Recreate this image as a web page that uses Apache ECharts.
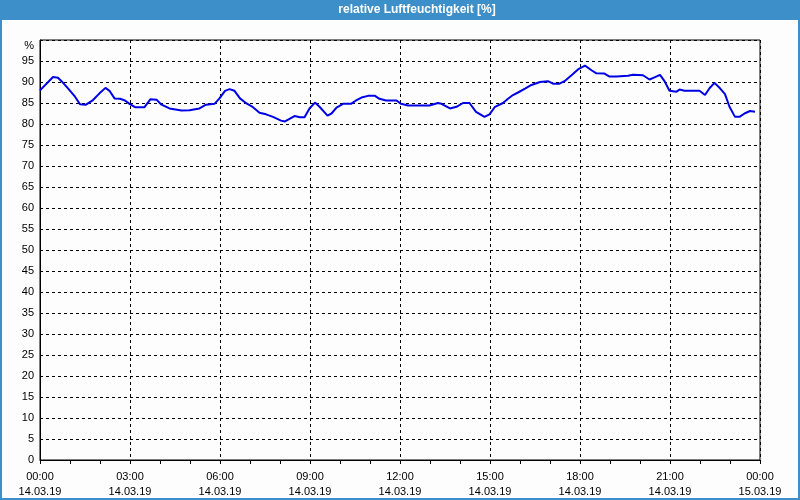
<!DOCTYPE html>
<html>
<head>
<meta charset="utf-8">
<script src="https://cdn.jsdelivr.net/npm/echarts@6/dist/echarts.min.js"></script>
<style>html,body{margin:0;padding:0;background:#fff}#c{width:800px;height:500px}</style>
</head>
<body>
<div id="c"></div>
<script>
// minutes since 14.03.19 00:00
var times = [0,26,36,43,56,70,80,92,106,119,131,139,149,160,170,179,190,209,221,233,243,259,283,299,319,332,349,359,370,379,389,400,413,426,439,452,466,482,490,499,509,520,529,539,550,559,575,583,593,606,622,632,643,656,670,679,692,713,722,736,756,779,796,803,820,833,846,859,872,889,899,910,926,936,946,956,970,983,1000,1016,1026,1039,1049,1063,1076,1090,1103,1112,1129,1139,1153,1176,1186,1206,1219,1229,1240,1249,1259,1273,1279,1289,1319,1330,1339,1349,1360,1370,1379,1390,1399,1409,1420,1430];
var humidity = [88.0,91.2,91.0,90.2,88.5,86.5,84.7,84.6,85.7,87.3,88.6,87.9,86.1,86.0,85.6,84.8,84.0,84.0,85.9,85.8,84.6,83.7,83.2,83.3,83.7,84.6,84.8,86.1,87.9,88.3,87.9,86.1,84.9,84.0,82.7,82.3,81.7,80.8,80.6,81.2,81.9,81.6,81.6,83.7,85.1,84.1,82.0,82.5,83.9,84.8,84.8,85.6,86.3,86.7,86.7,86.0,85.6,85.6,84.8,84.4,84.4,84.4,85.0,84.8,83.7,84.1,85.0,85.0,82.9,81.7,82.3,84.1,85.0,86.0,86.9,87.5,88.4,89.3,90.0,90.2,89.6,89.6,90.2,91.6,93.0,93.9,92.8,92.1,92.0,91.3,91.3,91.5,91.7,91.6,90.6,91.1,91.7,90.2,87.9,87.7,88.2,87.9,87.9,86.9,88.5,89.8,88.5,87.1,84.1,81.7,81.7,82.5,83.1,82.9];
var xTickLabels = {0:'00:00\n14.03.19',180:'03:00\n14.03.19',360:'06:00\n14.03.19',540:'09:00\n14.03.19',720:'12:00\n14.03.19',900:'15:00\n14.03.19',1080:'18:00\n14.03.19',1260:'21:00\n14.03.19',1440:'00:00\n15.03.19'};
var titleText = 'relative Luftfeuchtigkeit [%]';
var yTopLabel = '%';

var data = times.map(function(t,i){return [t, humidity[i]];});
var font = 'Liberation Sans';
var chart = echarts.init(document.getElementById('c'), null, {renderer:'canvas'});
chart.setOption({
  animation:false,
  backgroundColor:'#3c8fc8',
  graphic:[
    {type:'rect', z:-10, shape:{x:2,y:20,width:796,height:478}, style:{fill:'#fcfdfc'}},
    {type:'text', x:417, y:10, style:{text:titleText, fill:'#ffffff', font:'bold 12px "Liberation Sans"', textAlign:'center', textVerticalAlign:'middle'}}
  ],
  grid:{left:40,right:40,top:40,bottom:40,show:true,borderColor:'#000',borderWidth:1,backgroundColor:'transparent'},
  xAxis:[{
    type:'value', min:0, max:1440, interval:180,
    axisLine:{show:true,lineStyle:{color:'#000',width:1}},
    axisTick:{show:false},
    splitLine:{show:true,lineStyle:{color:'#000',type:[3,3],width:1}},
    axisLabel:{show:true, margin:9, color:'#000', fontFamily:font, fontSize:11, lineHeight:15,
      formatter:function(v){return xTickLabels[v]||'';}}
  },{
    type:'value', min:0, max:1440, interval:60, position:'bottom',
    axisLine:{show:false},
    axisTick:{show:true,length:4,lineStyle:{color:'#000'}},
    splitLine:{show:false},
    axisLabel:{show:false}
  }],
  yAxis:{
    type:'value', min:0, max:100, interval:5,
    axisLine:{show:true,lineStyle:{color:'#000'}},
    axisTick:{show:false},
    splitLine:{show:true,lineStyle:{color:'#000',type:[3,3],width:1}},
    axisLabel:{color:'#000', fontFamily:font, fontSize:11, margin:6,
      formatter:function(v){return v===100?'{p|'+yTopLabel+'}':String(v);},
      rich:{p:{fontFamily:font, fontSize:11, color:'#000', padding:[11,0,0,0]}}}
  },
  series:[{
    type:'line', xAxisIndex:0, data:data, symbol:'none', smooth:false,
    lineStyle:{color:'#0000e6', width:2}
  }]
});
</script>
</body>
</html>
